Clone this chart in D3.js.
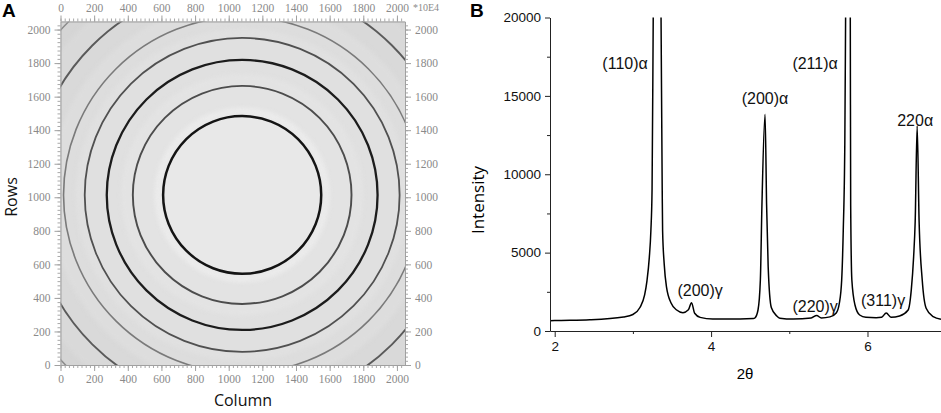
<!DOCTYPE html>
<html>
<head>
<meta charset="utf-8">
<script src="https://cdn.jsdelivr.net/npm/d3@7"></script>
<style>
  body { margin: 0; background: #fff; }
  svg { display: block; }
</style>
</head>
<body>
<script>
const W = 941, H = 413;

// panel A: detector image (pixel units)
const detTicks = [0, 200, 400, 600, 800, 1000, 1200, 1400, 1600, 1800, 2000];
const ringCenter = [1080, 1014];
const ringRadius = [470, 650, 805, 936, 1062, 1260, 1460];
const ringShade  = ['#141414', '#4c4c4c', '#1c1c1c', '#505050', '#7a7a7a', '#5a5a5a', '#8c8c8c'];
const ringWidth  = [2.5, 1.9, 2.3, 1.8, 1.6, 1.9, 1.5];
const bandRadius = [1700, 1380, 1150, 990, 720, 520, 490];
const bandShade  = ['#d5d5d5', '#d9d9d9', '#dddddd', '#e0e0e0', '#e3e3e3', '#ececec', '#e8e8e8'];

// panel B: diffraction pattern
const twoTheta = [1.94, 2.0, 2.45, 2.88, 3.0, 3.09, 3.15, 3.18, 3.21, 3.23, 3.245, 3.26, 3.31, 3.36, 3.375, 3.38,
  3.40, 3.43, 3.49, 3.56, 3.64, 3.71, 3.75, 3.79, 3.86, 4.02, 4.37, 4.54, 4.56, 4.60, 4.63, 4.65, 4.69, 4.71,
  4.73, 4.77, 4.84, 4.88, 5.05, 5.28, 5.35, 5.41, 5.52, 5.60, 5.64, 5.67, 5.69, 5.71, 5.72, 5.75, 5.78, 5.785,
  5.80, 5.84, 5.90, 5.98, 6.11, 6.18, 6.24, 6.30, 6.41, 6.52, 6.56, 6.59, 6.61, 6.635, 6.66, 6.70, 6.75, 6.84, 6.94];
const intensity = [660, 670, 720, 900, 1050, 1500, 2300, 3200, 4700, 6400, 9000, 20000, 45000, 20000, 9000, 6400,
  4300, 2800, 1770, 1340, 1170, 1350, 1810, 1130, 870, 760, 760, 790, 830, 1340, 3250, 8000, 13830, 8000,
  4100, 1500, 960, 820, 760, 830, 990, 830, 900, 1150, 1770, 3250, 6400, 12000, 20000, 45000, 20000, 8000,
  3250, 1660, 1020, 870, 850, 880, 1150, 880, 960, 1340, 2620, 4740, 7000, 13080, 7000, 3250, 1450, 915, 750];
const yTicks = [0, 5000, 10000, 15000, 20000];
const yMinor = [2500, 7500, 12500, 17500];
const xTicks = [2, 4, 6];
const xMinor = [3, 5];
const peakLabels = ['(110)α', '(211)α', '(200)α', '220α', '(200)γ', '(220)γ', '(311)γ'];
const peakLabelX = [2.90, 5.33, 4.69, 6.61, 3.86, 5.33, 6.20];
const peakLabelY = [16700, 16700, 14500, 13100, 2250, 1230, 1620];

const svg = d3.select('body').append('svg').attr('width', W).attr('height', H);

// ---------- panel A ----------
const ax = d3.scaleLinear().domain([0, 2048]).range([60.5, 405]);
const ay = d3.scaleLinear().domain([0, 2048]).range([365, 21.5]);
const rx = r => ax(r) - ax(0);
const ry = r => ay(0) - ay(r);

svg.append('clipPath').attr('id', 'clipA')
  .append('rect').attr('x', ax(0)).attr('y', ay(2048))
  .attr('width', ax(2048) - ax(0)).attr('height', ay(0) - ay(2048));

const img = svg.append('g').attr('clip-path', 'url(#clipA)');
img.append('rect').attr('x', ax(0)).attr('y', ay(2048))
  .attr('width', ax(2048) - ax(0)).attr('height', ay(0) - ay(2048)).attr('fill', '#d2d2d2');

img.selectAll('ellipse.band').data(bandRadius).enter().append('ellipse')
  .attr('class', 'band')
  .attr('cx', ax(ringCenter[0])).attr('cy', ay(ringCenter[1]))
  .attr('rx', d => rx(d)).attr('ry', d => ry(d))
  .attr('fill', (d, i) => bandShade[i])
  .style('filter', 'blur(2px)');

img.selectAll('ellipse.ring').data(ringRadius).enter().append('ellipse')
  .attr('class', 'ring')
  .attr('cx', ax(ringCenter[0])).attr('cy', ay(ringCenter[1]))
  .attr('rx', d => rx(d)).attr('ry', d => ry(d))
  .attr('fill', 'none')
  .attr('stroke', (d, i) => ringShade[i])
  .attr('stroke-width', (d, i) => ringWidth[i])
  .style('filter', 'blur(0.5px)');

const minorA = d3.range(0, 2049, 25);
const makersA = [
  [d3.axisBottom, ax, `translate(0,${ay(0)})`],
  [d3.axisTop, ax, `translate(0,${ay(2048)})`],
  [d3.axisLeft, ay, `translate(${ax(0)},0)`],
  [d3.axisRight, ay, `translate(${ax(2048)},0)`]
];
makersA.forEach(([make, scale, tr]) => {
  const gMinor = svg.append('g').attr('transform', tr)
    .call(make(scale).tickValues(minorA).tickSize(3).tickFormat('').tickSizeOuter(0));
  gMinor.select('path.domain').remove();
  gMinor.selectAll('.tick line').attr('stroke', '#a8a8a8');
  const gMajor = svg.append('g').attr('transform', tr)
    .call(make(scale).tickValues(detTicks).tickSize(6).tickPadding(4).tickSizeOuter(0).tickFormat(d3.format('d')));
  gMajor.select('path.domain').attr('stroke', '#a0a0a0');
  gMajor.selectAll('.tick line').attr('stroke', '#a0a0a0');
  gMajor.selectAll('text').attr('fill', '#8a8a8a')
    .style('font-family', '"Liberation Serif", "DejaVu Serif", serif').style('font-size', '11.5px');
});

svg.append('text').attr('x', 413).attr('y', 11)
  .style('font-family', '"Liberation Serif", serif').style('font-size', '10px').attr('fill', '#8a8a8a')
  .text('*10E4');

svg.append('text').attr('x', 243).attr('y', 406).attr('text-anchor', 'middle')
  .style('font-family', '"Open Sans", sans-serif').style('font-size', '16px').attr('fill', '#111')
  .text('Column');
svg.append('text').attr('transform', 'translate(17,197) rotate(-90)').attr('text-anchor', 'middle')
  .style('font-family', '"Open Sans", sans-serif').style('font-size', '16px').attr('fill', '#111')
  .text('Rows');
svg.append('text').attr('x', 2).attr('y', 17)
  .style('font-family', '"Liberation Sans", Arial, sans-serif').style('font-size', '19px').style('font-weight', 'bold')
  .text('A');

// ---------- panel B ----------
const bx = d3.scaleLinear().domain([1.94, 6.94]).range([550, 941]);
const by = d3.scaleLinear().domain([0, 20000]).range([331, 17.5]);

svg.append('clipPath').attr('id', 'clipB')
  .append('rect').attr('x', 550).attr('y', by(20000)).attr('width', 391).attr('height', by(0) - by(20000));

const line = d3.line().x((d, i) => bx(twoTheta[i])).y(d => by(d)).curve(d3.curveMonotoneX);
svg.append('path').datum(intensity)
  .attr('clip-path', 'url(#clipB)')
  .attr('d', line).attr('fill', 'none').attr('stroke', '#000').attr('stroke-width', 1.5);

const fontB = '"Liberation Sans", Arial, sans-serif';
const yAx = svg.append('g').attr('transform', `translate(${bx(1.94)},0)`)
  .call(d3.axisLeft(by).tickValues(yTicks).tickSize(5).tickPadding(4).tickSizeOuter(0).tickFormat(d3.format('d')));
svg.append('g').attr('transform', `translate(${bx(1.94)},0)`)
  .call(d3.axisLeft(by).tickValues(yMinor).tickSize(3).tickFormat('').tickSizeOuter(0))
  .call(g => { g.select('path.domain').remove(); g.selectAll('line').attr('stroke', '#222'); });
const xAx = svg.append('g').attr('transform', `translate(0,${by(0)})`)
  .call(d3.axisBottom(bx).tickValues(xTicks).tickSize(6).tickPadding(4).tickSizeOuter(0).tickFormat(d3.format('d')));
svg.append('g').attr('transform', `translate(0,${by(0)})`)
  .call(d3.axisBottom(bx).tickValues(xMinor).tickSize(3).tickFormat('').tickSizeOuter(0))
  .call(g => { g.select('path.domain').remove(); g.selectAll('line').attr('stroke', '#222'); });
[yAx, xAx].forEach(g => {
  g.selectAll('path.domain, .tick line').attr('stroke', '#222');
  g.selectAll('text').style('font-family', fontB).style('font-size', '13.5px').attr('fill', '#111');
});

svg.selectAll('text.peak').data(peakLabels).enter().append('text')
  .attr('class', 'peak')
  .attr('x', (d, i) => bx(peakLabelX[i])).attr('y', (d, i) => by(peakLabelY[i]))
  .attr('text-anchor', 'middle')
  .style('font-family', fontB).style('font-size', '16px').attr('fill', '#111')
  .text(d => d);

svg.append('text').attr('x', 745).attr('y', 379).attr('text-anchor', 'middle')
  .style('font-family', fontB).style('font-size', '15px').text('2θ');
svg.append('text').attr('transform', 'translate(484,200) rotate(-90)').attr('text-anchor', 'middle')
  .style('font-family', '"Open Sans", sans-serif').style('font-size', '17px').text('Intensity');
svg.append('text').attr('x', 470).attr('y', 17)
  .style('font-family', fontB).style('font-size', '19px').style('font-weight', 'bold').text('B');
</script>
</body>
</html>
